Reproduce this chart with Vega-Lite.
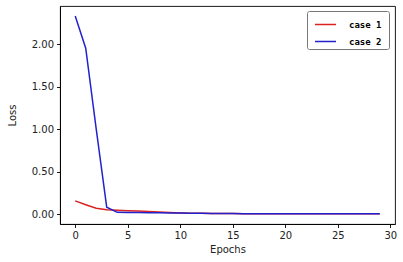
{
  "$schema": "https://vega.github.io/schema/vega-lite/v6.json",
  "width": 335,
  "height": 218,
  "autosize": {"type": "none"},
  "padding": {"left": 60, "top": 6, "right": 8, "bottom": 38},
  "background": "white",
  "config": {
    "font": "DejaVu Sans",
    "view": {"stroke": "black", "strokeWidth": 0.9},
    "axis": {
      "grid": false,
      "domainColor": "black",
      "domainWidth": 0.9,
      "tickColor": "black",
      "tickSize": 3.5,
      "tickWidth": 0.9,
      "labelFontSize": 10,
      "labelColor": "#222",
      "labelPadding": 3,
      "titleFontSize": 10,
      "titleFontWeight": "normal",
      "titleColor": "#222"
    }
  },
  "data": {
    "values": [
      {"epoch": 0, "loss": 0.155, "case": "case  1"},
      {"epoch": 1, "loss": 0.11, "case": "case  1"},
      {"epoch": 2, "loss": 0.068, "case": "case  1"},
      {"epoch": 3, "loss": 0.052, "case": "case  1"},
      {"epoch": 4, "loss": 0.045, "case": "case  1"},
      {"epoch": 5, "loss": 0.04, "case": "case  1"},
      {"epoch": 6, "loss": 0.035, "case": "case  1"},
      {"epoch": 7, "loss": 0.03, "case": "case  1"},
      {"epoch": 8, "loss": 0.024, "case": "case  1"},
      {"epoch": 9, "loss": 0.018, "case": "case  1"},
      {"epoch": 10, "loss": 0.013, "case": "case  1"},
      {"epoch": 11, "loss": 0.01, "case": "case  1"},
      {"epoch": 12, "loss": 0.008, "case": "case  1"},
      {"epoch": 13, "loss": 0.007, "case": "case  1"},
      {"epoch": 14, "loss": 0.006, "case": "case  1"},
      {"epoch": 15, "loss": 0.006, "case": "case  1"},
      {"epoch": 16, "loss": 0.005, "case": "case  1"},
      {"epoch": 17, "loss": 0.005, "case": "case  1"},
      {"epoch": 18, "loss": 0.005, "case": "case  1"},
      {"epoch": 19, "loss": 0.005, "case": "case  1"},
      {"epoch": 20, "loss": 0.004, "case": "case  1"},
      {"epoch": 21, "loss": 0.004, "case": "case  1"},
      {"epoch": 22, "loss": 0.004, "case": "case  1"},
      {"epoch": 23, "loss": 0.004, "case": "case  1"},
      {"epoch": 24, "loss": 0.004, "case": "case  1"},
      {"epoch": 25, "loss": 0.003, "case": "case  1"},
      {"epoch": 26, "loss": 0.003, "case": "case  1"},
      {"epoch": 27, "loss": 0.003, "case": "case  1"},
      {"epoch": 28, "loss": 0.003, "case": "case  1"},
      {"epoch": 29, "loss": 0.003, "case": "case  1"},
      {"epoch": 0, "loss": 2.33, "case": "case  2"},
      {"epoch": 1, "loss": 1.95, "case": "case  2"},
      {"epoch": 2, "loss": 1.0, "case": "case  2"},
      {"epoch": 3, "loss": 0.08, "case": "case  2"},
      {"epoch": 4, "loss": 0.02, "case": "case  2"},
      {"epoch": 5, "loss": 0.018, "case": "case  2"},
      {"epoch": 6, "loss": 0.017, "case": "case  2"},
      {"epoch": 7, "loss": 0.016, "case": "case  2"},
      {"epoch": 8, "loss": 0.015, "case": "case  2"},
      {"epoch": 9, "loss": 0.013, "case": "case  2"},
      {"epoch": 10, "loss": 0.011, "case": "case  2"},
      {"epoch": 11, "loss": 0.009, "case": "case  2"},
      {"epoch": 12, "loss": 0.008, "case": "case  2"},
      {"epoch": 13, "loss": 0.007, "case": "case  2"},
      {"epoch": 14, "loss": 0.006, "case": "case  2"},
      {"epoch": 15, "loss": 0.006, "case": "case  2"},
      {"epoch": 16, "loss": 0.005, "case": "case  2"},
      {"epoch": 17, "loss": 0.005, "case": "case  2"},
      {"epoch": 18, "loss": 0.005, "case": "case  2"},
      {"epoch": 19, "loss": 0.005, "case": "case  2"},
      {"epoch": 20, "loss": 0.004, "case": "case  2"},
      {"epoch": 21, "loss": 0.004, "case": "case  2"},
      {"epoch": 22, "loss": 0.004, "case": "case  2"},
      {"epoch": 23, "loss": 0.004, "case": "case  2"},
      {"epoch": 24, "loss": 0.004, "case": "case  2"},
      {"epoch": 25, "loss": 0.003, "case": "case  2"},
      {"epoch": 26, "loss": 0.003, "case": "case  2"},
      {"epoch": 27, "loss": 0.003, "case": "case  2"},
      {"epoch": 28, "loss": 0.003, "case": "case  2"},
      {"epoch": 29, "loss": 0.003, "case": "case  2"}
    ]
  },
  "mark": {"type": "line", "strokeWidth": 1.5, "clip": true},
  "encoding": {
    "x": {
      "field": "epoch",
      "type": "quantitative",
      "scale": {"domain": [-1.45, 30.45], "nice": false, "zero": false},
      "axis": {"values": [0, 5, 10, 15, 20, 25, 30], "title": "Epochs", "titlePadding": 4, "format": "d"}
    },
    "y": {
      "field": "loss",
      "type": "quantitative",
      "scale": {"domain": [-0.117, 2.447], "nice": false, "zero": false},
      "axis": {"values": [0, 0.5, 1, 1.5, 2], "format": ".2f", "title": "Loss", "titlePadding": 14}
    },
    "color": {
      "field": "case",
      "type": "nominal",
      "scale": {"domain": ["case  1", "case  2"], "range": ["#dd2222", "#2222cc"]},
      "legend": {
        "title": null,
        "orient": "none",
        "legendX": 247,
        "legendY": 5,
        "symbolType": "stroke",
        "symbolSize": 441,
        "symbolOffset": 5,
        "symbolStrokeWidth": 1.5,
        "labelFont": "DejaVu Sans Mono",
        "labelFontSize": 9,
        "labelFontWeight": "bold",
        "labelColor": "black",
        "labelOffset": 12,
        "rowPadding": -6,
        "padding": 2,
        "strokeColor": "#777",
        "cornerRadius": 2,
        "fillColor": "white"
      }
    },
    "order": {"field": "case"}
  }
}
